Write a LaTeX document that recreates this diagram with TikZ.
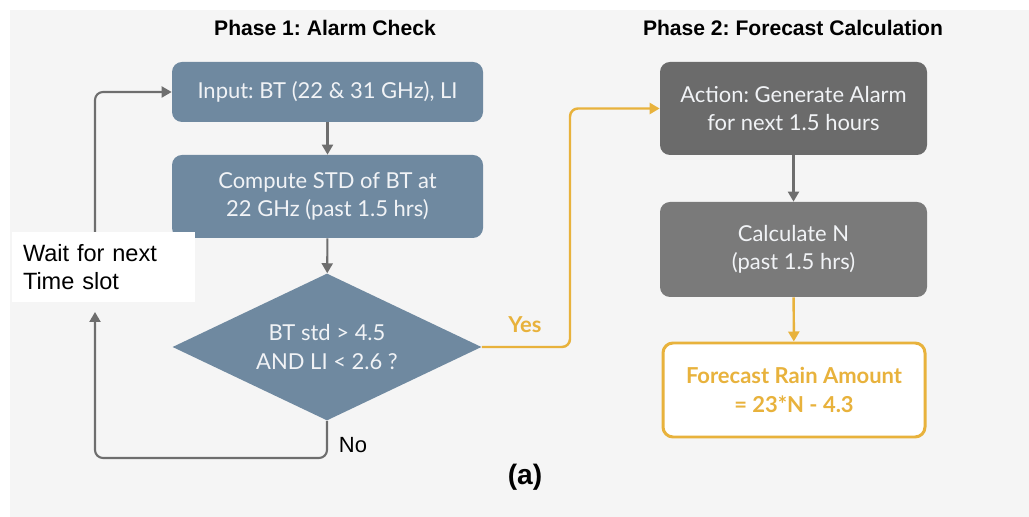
\documentclass[tikz,border=0pt]{standalone}
\usepackage{fontspec}
\setmainfont{Liberation Sans}
\newfontfamily\boxfont{Lato}
\usetikzlibrary{shapes.geometric,arrows.meta}
\frenchspacing

\definecolor{steel}{HTML}{6F89A0}
\definecolor{darkbox}{HTML}{6B6B6B}
\definecolor{midbox}{HTML}{7A7A7A}
\definecolor{gold}{HTML}{E8B23C}
\definecolor{linegray}{HTML}{6E6E6E}
\definecolor{paper}{HTML}{F5F5F5}

\begin{document}
\begin{tikzpicture}[
   box/.style={rectangle,rounded corners=0.2cm,align=center,inner sep=0pt,
    text=white!90!steel,font=\boxfont\fontsize{12.5}{16}\selectfont},
   check/.style={diamond,shape aspect=2.1,fill=steel,align=center,inner sep=0pt,
    text=white!90!steel,font=\boxfont\fontsize{12.5}{16}\selectfont},
   phase/.style={font=\bfseries\fontsize{12}{14}\selectfont},
   flow/.style={draw=linegray,line width=1.2pt,rounded corners=0.16cm,
    -{Triangle[width=0.22cm,length=0.2cm]}},
   yesflow/.style={flow,draw=gold,line width=1.4pt},
    ]

    % Background:
    \useasboundingbox (0,0) rectangle (20.58,10.34);
    \fill[paper] (0.2,0) rectangle (20.58,10.14);

    % Titles:
    \node[phase] at (6.50,9.78) (title1) {Phase 1: Alarm Check};
    \node[phase] at (15.86,9.78) (title2) {Phase 2: Forecast Calculation};

    % Phase 1 boxes:
    \node[box,fill=steel,minimum width=6.22cm,minimum height=1.2cm]
        at (6.55,8.50) (input) {Input: BT (22 \& 31 GHz), LI};
    \node[box,fill=steel,minimum width=6.22cm,minimum height=1.66cm]
        at (6.55,6.41) (std) {Compute STD of BT at\\22 GHz (past 1.5 hrs)};
    \node[check,minimum width=6.18cm,minimum height=2.94cm]
        at (6.54,3.40) (test) {BT std > 4.5\\AND LI < 2.6 ?};
    \node[fill=white,minimum width=3.66cm,minimum height=1.4cm,
        text width=3.22cm,align=left,inner sep=0pt,
        font=\fontsize{13.4}{16}\selectfont]
        at (2.07,5.00) (wait) {Wait for next\\Time slot};

    % Phase 2 boxes:
    \node[box,fill=darkbox,minimum width=5.34cm,minimum height=1.86cm]
        at (15.87,8.17) (alarm) {Action: Generate Alarm\\for next 1.5 hours};
    \node[box,fill=midbox,minimum width=5.34cm,minimum height=1.9cm]
        at (15.87,5.35) (count) {Calculate N\\(past 1.5 hrs)};
    \node[box,draw=gold,line width=1.7pt,fill=white,text=gold,
        minimum width=5.24cm,minimum height=1.88cm,
        font=\boxfont\bfseries\fontsize{12.5}{16}\selectfont]
        at (15.88,2.54) (rain) {Forecast Rain Amount\\= 23*N - 4.3};

    % Labels:
    \node[text=gold,font=\boxfont\bfseries\fontsize{12.5}{15}\selectfont]
        at (10.50,3.84) (yes) {Yes};
    \node[font=\fontsize{12.5}{15}\selectfont] at (7.06,1.44) (no) {No};
    \node[font=\bfseries\fontsize{16}{18}\selectfont] at (10.50,0.80) (sub) {(a)};

    % Loop corners:
    \coordinate (loopdown) at (test.south |- 0,1.18);
    \coordinate (loopleft) at (1.90,1.18);
    \coordinate (waitin) at (1.90,4.10);
    \coordinate (waitout) at (1.90,5.70);
    \coordinate (loopup) at (1.90,8.50);
    \coordinate (yesright) at (11.40,3.40);
    \coordinate (yesup) at (11.40,8.17);

    % arrows
    \draw[flow] (input) -- (std);
    \draw[flow] (std) -- (test);
    \draw[flow] (test.south) -- (loopdown) -- (loopleft) -- (waitin);
    \draw[flow] (waitout) -- (loopup) -- (input.west);
    \draw[yesflow] (test.east) -- (yesright) -- (yesup) -- (alarm.west);
    \draw[flow] (alarm) -- (count);
    \draw[yesflow] (count) -- (rain);

\end{tikzpicture}
\end{document}
